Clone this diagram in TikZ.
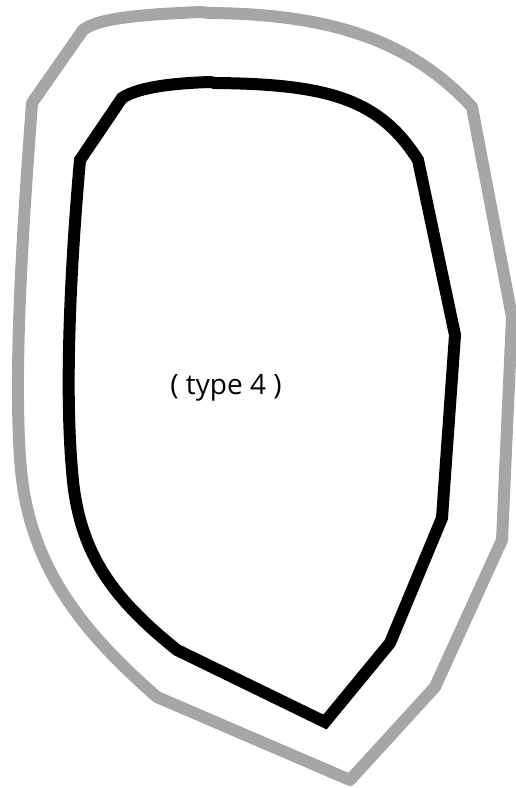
\documentclass[tikz,border=0pt]{standalone}
\usepackage{fontspec}
\setmainfont{Open Sans}
\tikzset{
    outline/.style={
        draw=black!35,
        line width=12pt,
        line join=round
    },
    region/.style={
        draw=black,
        line width=12pt,
        line join=miter
    },
    tag/.style={
        font=\fontsize{28}{32}\selectfont,
        inner sep=0pt
    }
}
\begin{document}
\begin{tikzpicture}[x=1pt,y=-1pt]
\useasboundingbox (0,0) rectangle (516,788);
\draw[outline] (200,12) -- (210,13) .. controls (330,14) and (410,40) .. (472,107)
  -- (512,317) -- (502,540) -- (435,687) -- (350,780) -- (157,697)
  .. controls (80,630) and (30,565) .. (21,470)
  .. controls (12,370) and (25,200) .. (32,103)
  -- (83,30) .. controls (100,16) and (160,14) .. cycle;
\draw[region] (210,82) -- (215,83) .. controls (330,84) and (380,100) .. (418,160)
  -- (455,335) -- (442,518) -- (390,643) -- (325,722) -- (177,650)
  .. controls (115,600) and (78,555) .. (72,470)
  .. controls (64,380) and (72,250) .. (80,160)
  -- (122,98) .. controls (140,86) and (180,83) .. cycle;
\node[tag] (type) at (226,388) {( type 4 )};
\end{tikzpicture}
\end{document}
